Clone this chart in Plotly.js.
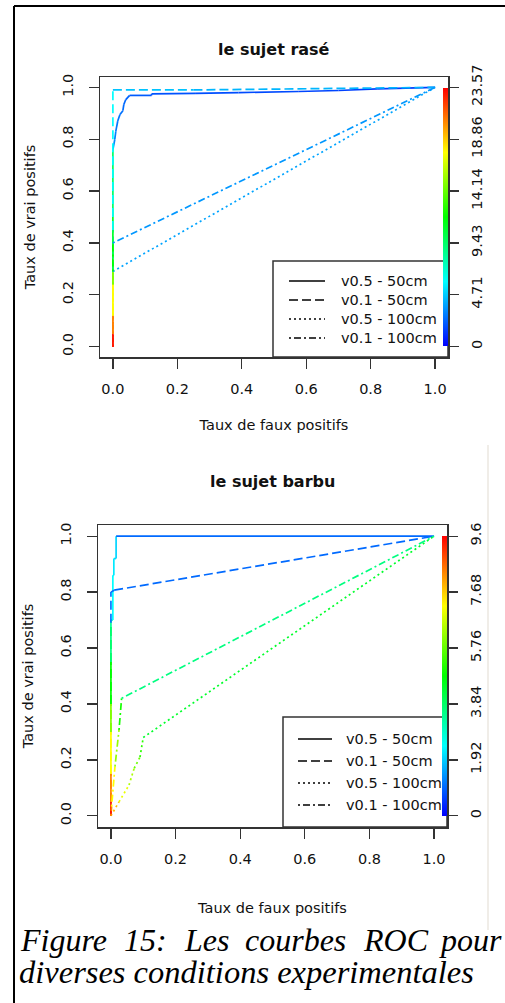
<!DOCTYPE html>
<html>
<head>
<meta charset="utf-8">
<script src="https://cdn.plot.ly/plotly-3.0.1.min.js"></script>
<style>html,body{margin:0;padding:0;background:#fff;}#chart{width:505px;height:1003px;}</style>
</head>
<body>
<div id="chart"></div>
<script>
// ---------- DATA ----------
const seriesNames = ['v0.5 - 50cm', 'v0.1 - 50cm', 'v0.5 - 100cm', 'v0.1 - 100cm'];
const axisTicks = [0, 0.2, 0.4, 0.6, 0.8, 1.0];
const axisTickLabels = ['0.0', '0.2', '0.4', '0.6', '0.8', '1.0'];

// Plot 1 : le sujet rasé
const raseMaxCut = 23.57;
const raseCutTicks = [0, 4.71, 9.43, 14.14, 18.86, 23.57];
const raseCutLabels = ['0', '4.71', '9.43', '14.14', '18.86', '23.57'];
const rase_v05_50_fpr = [0, 0, 0, 0, 0, 0, 0, 0.006, 0.009, 0.015, 0.022, 0.031, 0.034, 0.04, 0.052, 0.12, 0.12, 0.255, 0.39, 0.575, 0.70, 0.82, 1];
const rase_v05_50_tpr = [0, 0.05, 0.12, 0.24, 0.29, 0.5, 0.76, 0.80, 0.83, 0.87, 0.895, 0.91, 0.934, 0.953, 0.969, 0.969, 0.975, 0.977, 0.98, 0.984, 0.988, 0.994, 1];
const rase_v05_50_cut = [23.57, 23, 20.6, 17.7, 14.7, 11, 9.5, 3.2, 3.0, 2.8, 2.7, 2.6, 2.5, 2.4, 2.3, 2.1, 2.0, 1.9, 1.8, 1.7, 1.6, 1.5, 1.4];
const rase_v01_50_fpr = [0, 0, 0, 0, 0, 0, 0, 0, 0.25, 1];
const rase_v01_50_tpr = [0, 0.05, 0.12, 0.24, 0.29, 0.45, 0.7, 0.99, 0.99, 1];
const rase_v01_50_cut = [23.57, 23, 20.6, 17.7, 14.7, 10, 6, 5.9, 4.5, 4.2];
const rase_v05_100_fpr = [0, 0, 0, 0, 0, 1];
const rase_v05_100_tpr = [0, 0.05, 0.12, 0.24, 0.29, 1];
const rase_v05_100_cut = [23.57, 23, 20.6, 17.7, 14.7, 3.8];
const rase_v01_100_fpr = [0, 0, 0, 0, 0, 0, 1];
const rase_v01_100_tpr = [0, 0.05, 0.12, 0.24, 0.29, 0.4, 1];
const rase_v01_100_cut = [23.57, 23, 20.6, 17.7, 14.7, 11.8, 3.5];

// Plot 2 : le sujet barbu
const barbuMaxCut = 9.6;
const barbuCutTicks = [0, 1.92, 3.84, 5.76, 7.68, 9.6];
const barbuCutLabels = ['0', '1.92', '3.84', '5.76', '7.68', '9.6'];
const barbu_v05_50_fpr = [0, 0, 0, 0, 0, 0, 0, 0, 0.006, 0.006, 0.009, 0.009, 0.016, 0.016, 1];
const barbu_v05_50_tpr = [0, 0.05, 0.15, 0.3, 0.4, 0.55, 0.65, 0.7, 0.7, 0.86, 0.86, 0.92, 0.92, 1, 1];
const barbu_v05_50_cut = [9.6, 9.4, 8.4, 7.2, 6.0, 4.8, 3.6, 3.4, 3.0, 2.4, 2.3, 2.2, 2.1, 2.0, 1.0];
const barbu_v01_50_fpr = [0, 0, 0, 0, 0, 0, 0, 0, 0.01, 1];
const barbu_v01_50_tpr = [0, 0.05, 0.15, 0.3, 0.4, 0.55, 0.69, 0.8, 0.807, 1];
const barbu_v01_50_cut = [9.6, 9.4, 8.4, 7.2, 6.0, 4.8, 3.8, 1.1, 1.05, 1.0];
const barbu_v05_100_fpr = [0, 0.025, 0.056, 0.072, 0.09, 0.1, 1];
const barbu_v05_100_tpr = [0, 0.05, 0.11, 0.17, 0.21, 0.28, 1];
const barbu_v05_100_cut = [9.6, 7.8, 7.0, 6.4, 5.8, 5.2, 4.4];
const barbu_v01_100_fpr = [0, 0.002, 0.0125, 0.025, 0.033, 1];
const barbu_v01_100_tpr = [0, 0.033, 0.176, 0.307, 0.42, 1];
const barbu_v01_100_cut = [9.6, 8.4, 7.2, 6.2, 5.0, 3.6];

const captionLine1 = ['Figure', '15:', 'Les', 'courbes', 'ROC', 'pour'];
const captionLine2 = 'diverses conditions experimentales';

// ---------- STYLE ----------
const W = 505, H = 1003;
const px = v => v / W;           // pixel -> paper x
const py = v => 1 - v / H;       // pixel -> paper y
const dashes = ['solid', '9px,4px', '2px,3px', '2px,3px,7px,3px'];
const txtFont = {family: 'DejaVu Sans', size: 14.5, color: '#111'};
const rainbowScale = [[0, 'rgb(0,0,255)'], [0.25, 'rgb(0,255,255)'], [0.5, 'rgb(0,255,0)'], [0.75, 'rgb(255,255,0)'], [1, 'rgb(255,0,0)']];
const rainbow = (v, max) => 'hsl(' + (240 * (1 - v / max)).toFixed(1) + ',100%,50%)';

const traces = [];
function addCurve(fpr, tpr, cut, max, dash, xa, ya, name) {
  for (let i = 1; i < fpr.length; i++) {
    traces.push({type: 'scatter', mode: 'lines', x: [fpr[i - 1], fpr[i]], y: [tpr[i - 1], tpr[i]], name: name,
      xaxis: xa, yaxis: ya, line: {color: rainbow(cut[i], max), width: 1.7, dash: dash},
      showlegend: false, hoverinfo: 'skip'});
  }
}
function addScale(fpr, cut, max, xa, ya, x0, centerY, lenPx) {
  traces.push({type: 'scatter', mode: 'markers', x: fpr, y: cut, xaxis: xa, yaxis: ya,
    showlegend: false, hoverinfo: 'skip',
    marker: {size: 1, opacity: 0, color: cut, cmin: 0, cmax: max, colorscale: rainbowScale, showscale: true,
      colorbar: {x: px(x0), xanchor: 'left', xref: 'paper', y: py(centerY), yanchor: 'middle', yref: 'paper',
        len: lenPx, lenmode: 'pixels', thickness: 5, thicknessmode: 'pixels', outlinewidth: 0,
        xpad: 0, ypad: 0, showticklabels: false, ticks: ''}}});
}

// top
addCurve(rase_v05_50_fpr, rase_v05_50_tpr, rase_v05_50_cut, raseMaxCut, dashes[0], 'x', 'y', seriesNames[0]);
addCurve(rase_v01_50_fpr, rase_v01_50_tpr, rase_v01_50_cut, raseMaxCut, dashes[1], 'x', 'y', seriesNames[1]);
addCurve(rase_v05_100_fpr, rase_v05_100_tpr, rase_v05_100_cut, raseMaxCut, dashes[2], 'x', 'y', seriesNames[2]);
addCurve(rase_v01_100_fpr, rase_v01_100_tpr, rase_v01_100_cut, raseMaxCut, dashes[3], 'x', 'y', seriesNames[3]);
addScale(rase_v05_50_fpr, rase_v05_50_cut, raseMaxCut, 'x', 'y2', 442.5, 217, 258);
// bottom
addCurve(barbu_v05_50_fpr, barbu_v05_50_tpr, barbu_v05_50_cut, barbuMaxCut, dashes[0], 'x2', 'y3', seriesNames[0]);
addCurve(barbu_v01_50_fpr, barbu_v01_50_tpr, barbu_v01_50_cut, barbuMaxCut, dashes[1], 'x2', 'y3', seriesNames[1]);
addCurve(barbu_v05_100_fpr, barbu_v05_100_tpr, barbu_v05_100_cut, barbuMaxCut, dashes[2], 'x2', 'y3', seriesNames[2]);
addCurve(barbu_v01_100_fpr, barbu_v01_100_tpr, barbu_v01_100_cut, barbuMaxCut, dashes[3], 'x2', 'y3', seriesNames[3]);
addScale(barbu_v05_50_fpr, barbu_v05_50_cut, barbuMaxCut, 'x2', 'y4', 441.5, 676, 280);

const boxLine = '#333';
function xAxis(dom, anchor, standoff) {
  return {domain: dom, anchor: anchor, range: [-0.04, 1.04], tickvals: axisTicks, ticktext: axisTickLabels,
    ticks: 'outside', ticklen: 10, tickwidth: 1.3, tickcolor: boxLine, ticklabelstandoff: 8,
    showline: true, mirror: true, linecolor: boxLine, linewidth: 1.5, showgrid: false, zeroline: false,
    tickfont: txtFont, title: {text: 'Taux de faux positifs', font: txtFont, standoff: standoff}, fixedrange: true};
}
function yAxis(dom, anchor) {
  return {domain: dom, anchor: anchor, range: [-0.04, 1.04], tickvals: axisTicks, ticktext: axisTickLabels,
    tickangle: -90, ticks: 'outside', ticklen: 10, tickwidth: 1.3, tickcolor: boxLine, ticklabelstandoff: 10,
    showline: true, mirror: true, linecolor: boxLine, linewidth: 1.5, showgrid: false, zeroline: false,
    tickfont: txtFont, title: {text: 'Taux de vrai positifs', font: txtFont, standoff: 20}, fixedrange: true};
}
function cutAxis(over, anchor, max, vals, labels) {
  return {overlaying: over, anchor: anchor, side: 'right', range: [-0.04 * max, 1.04 * max],
    tickvals: vals, ticktext: labels, tickangle: -90, ticks: 'outside', ticklen: 10, tickwidth: 1.3,
    tickcolor: boxLine, ticklabelstandoff: 6, showline: false, showgrid: false, zeroline: false,
    tickfont: txtFont, fixedrange: true};
}

const layout = {
  width: W, height: H, margin: {l: 0, r: 0, t: 0, b: 0},
  paper_bgcolor: '#fff', plot_bgcolor: 'rgba(0,0,0,0)', showlegend: false,
  xaxis: xAxis([px(100), px(448)], 'y', 24),
  yaxis: yAxis([py(357), py(77)], 'x'),
  yaxis2: cutAxis('y', 'x', raseMaxCut, raseCutTicks, raseCutLabels),
  xaxis2: xAxis([px(98), px(447)], 'y3', 37),
  yaxis3: yAxis([py(827), py(525)], 'x2'),
  yaxis4: cutAxis('y3', 'x2', barbuMaxCut, barbuCutTicks, barbuCutLabels),
  shapes: [
    {type: 'rect', xref: 'paper', yref: 'paper', x0: px(273), x1: px(448), y0: py(357), y1: py(261),
      line: {color: boxLine, width: 1.5}, fillcolor: '#fff', layer: 'below'},
    {type: 'rect', xref: 'paper', yref: 'paper', x0: px(283), x1: px(447), y0: py(827), y1: py(717),
      line: {color: boxLine, width: 1.5}, fillcolor: '#fff', layer: 'below'},
    {type: 'line', xref: 'paper', yref: 'paper', x0: px(14), x1: px(14), y0: py(6), y1: 0, line: {color: '#000', width: 2}},
    {type: 'line', xref: 'paper', yref: 'paper', x0: px(14), x1: 1, y0: py(6), y1: py(6), line: {color: '#000', width: 2}},
    {type: 'line', xref: 'paper', yref: 'paper', x0: px(488), x1: px(488), y0: py(445), y1: py(930), line: {color: '#ebe7e0', width: 1.5}}
  ],
  annotations: [
    {text: '<b>le sujet rasé</b>', xref: 'paper', yref: 'paper', x: px(274), y: py(38), showarrow: false,
      font: {family: 'DejaVu Sans', size: 16, color: '#111'}},
    {text: '<b>le sujet barbu</b>', xref: 'paper', yref: 'paper', x: px(272), y: py(481), showarrow: false,
      font: {family: 'DejaVu Sans', size: 16, color: '#111'}}
  ]
};

// legends (line samples + labels)
function addLegendBox(lineX0, lineX1, textX, rowsY) {
  seriesNames.forEach((n, i) => {
    layout.shapes.push({type: 'line', xref: 'paper', yref: 'paper', x0: px(lineX0), x1: px(lineX1),
      y0: py(rowsY[i]), y1: py(rowsY[i]), line: {color: '#000', width: 1.3, dash: dashes[i]}});
    layout.annotations.push({text: n, xref: 'paper', yref: 'paper', x: px(textX - 3), y: py(rowsY[i]),
      xanchor: 'left', yanchor: 'middle', showarrow: false, font: txtFont});
  });
}
addLegendBox(289, 325, 342, [281, 300, 319, 338]);
addLegendBox(298, 332, 347, [739, 761, 783, 805]);

const cap1X = [18, 122, 182, 243, 361, 437];
captionLine1.forEach((w, i) => layout.annotations.push({text: '<i>' + w + '</i>', xref: 'paper', yref: 'paper',
  x: px(cap1X[i]), y: py(940), xanchor: 'left', yanchor: 'middle', showarrow: false,
  font: {family: 'Liberation Serif', size: 32, color: '#000'}}));
layout.annotations.push({text: '<i>' + captionLine2 + '</i>', xref: 'paper', yref: 'paper',
  x: px(17), y: py(972), xanchor: 'left', yanchor: 'middle', showarrow: false,
  font: {family: 'Liberation Serif', size: 32.5, color: '#000'}});

Plotly.newPlot('chart', traces, layout, {staticPlot: true, displayModeBar: false});
</script>
</body>
</html>
